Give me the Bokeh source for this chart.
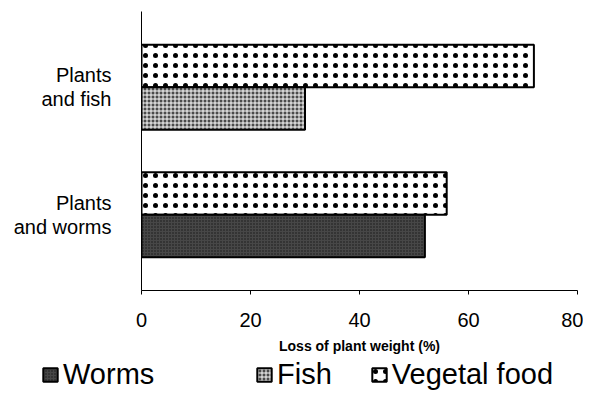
from bokeh.plotting import figure
from bokeh.layouts import column
from bokeh.models import (FactorRange, Range1d, FixedTicker, Legend, LegendItem,
                          ColumnDataSource)
from bokeh.transform import dodge
from bokeh.embed import file_html
from bokeh.resources import INLINE

# ---- data ----
groups = ["Plants\nand worms", "Plants\nand fish"]
vegetal_food = [56, 72]
animal_food = [52, 30]
animal_names = ["Worms", "Fish"]
vegetal_name = "Vegetal food"
x_ticks = [0, 20, 40, 60, 80]
x_label = "Loss of plant weight (%)"

FONT = "Liberation Sans"
W = 583
H_MAIN = 356
H_LEG = 35
BAR_H = 0.333
OFF = BAR_H / 2

veg_style = dict(fill_color="white", line_color="black", line_width=2,
                 hatch_pattern="dot", hatch_scale=10, hatch_color="black", hatch_weight=0.8)
styles = {
    "Worms": dict(fill_color="#474747", hatch_pattern="dot", hatch_color="#151515",
                  hatch_scale=3, hatch_weight=1, line_color="black", line_width=2),
    "Fish": dict(fill_color="#4a4a4a", hatch_pattern="cross", hatch_color="white",
                 hatch_scale=4, hatch_weight=1, line_color="black", line_width=2),
}


def draw_bars(fig, visible=True):
    rs = {}
    veg_src = ColumnDataSource(dict(g=groups, v=vegetal_food))
    rs[vegetal_name] = fig.hbar(y=dodge("g", OFF, range=fig.y_range), left=0, right="v",
                                height=BAR_H, source=veg_src, visible=visible, **veg_style)
    for i, name in enumerate(animal_names):
        src = ColumnDataSource(dict(g=[groups[i]], v=[animal_food[i]]))
        rs[name] = fig.hbar(y=dodge("g", -OFF, range=fig.y_range), left=0, right="v",
                            height=BAR_H, source=src, visible=visible, **styles[name])
    return rs


p = figure(width=W, height=H_MAIN, output_backend="svg", toolbar_location=None,
           y_range=FactorRange(factors=groups, range_padding=0.093),
           x_range=Range1d(0, 80),
           min_border_left=141, min_border_right=6, min_border_top=11,
           min_border_bottom=H_MAIN - 293)
draw_bars(p)

p.xgrid.visible = False
p.ygrid.visible = False
p.outline_line_color = None

xa = p.xaxis[0]
xa.ticker = FixedTicker(ticks=x_ticks)
xa.axis_line_color = "black"
xa.major_tick_line_color = "black"
xa.minor_tick_line_color = None
xa.major_tick_out = 4
xa.major_tick_in = 0
xa.major_label_standoff = 18
xa.major_label_text_font = FONT
xa.major_label_text_font_size = "20px"
xa.major_label_text_color = "black"
xa.axis_label = x_label
xa.axis_label_text_font = FONT
xa.axis_label_text_font_size = "14px"
xa.axis_label_text_font_style = "bold"
xa.axis_label_text_color = "black"
xa.axis_label_standoff = 8

ya = p.yaxis[0]
ya.axis_line_color = "black"
ya.major_tick_line_color = None
ya.minor_tick_line_color = None
ya.major_label_standoff = 24
ya.major_label_text_font = FONT
ya.major_label_text_font_size = "20px"
ya.major_label_text_color = "black"
ya.major_label_text_line_height = 1.1

# ---- legend strip (its own full-width frame) ----
q = figure(width=W, height=H_LEG, output_backend="svg", toolbar_location=None,
           x_range=Range1d(0, 80), y_range=FactorRange(factors=groups),
           min_border=0, x_axis_location=None, y_axis_location=None)
if "frame_align" in q.properties():
    q.frame_align = False
    p.frame_align = False
q.xgrid.visible = False
q.ygrid.visible = False
q.outline_line_color = None
leg_r = draw_bars(q, visible=False)


def make_legend(names, loc, spacing):
    return Legend(items=[LegendItem(label=n, renderers=[leg_r[n]]) for n in names],
                  location=loc, orientation="horizontal",
                  border_line_color=None, background_fill_alpha=0, padding=0, margin=0,
                  spacing=spacing, label_standoff=4, glyph_width=18, glyph_height=17,
                  label_text_font_size="29px", label_text_font=FONT,
                  label_text_color="black", inactive_fill_alpha=0)


q.add_layout(make_legend(["Worms"], (41, 0), 0))
q.add_layout(make_legend(["Fish", vegetal_name], (255, 0), 38))

open("out.html", "w").write(file_html(column(p, q, spacing=0), INLINE))
